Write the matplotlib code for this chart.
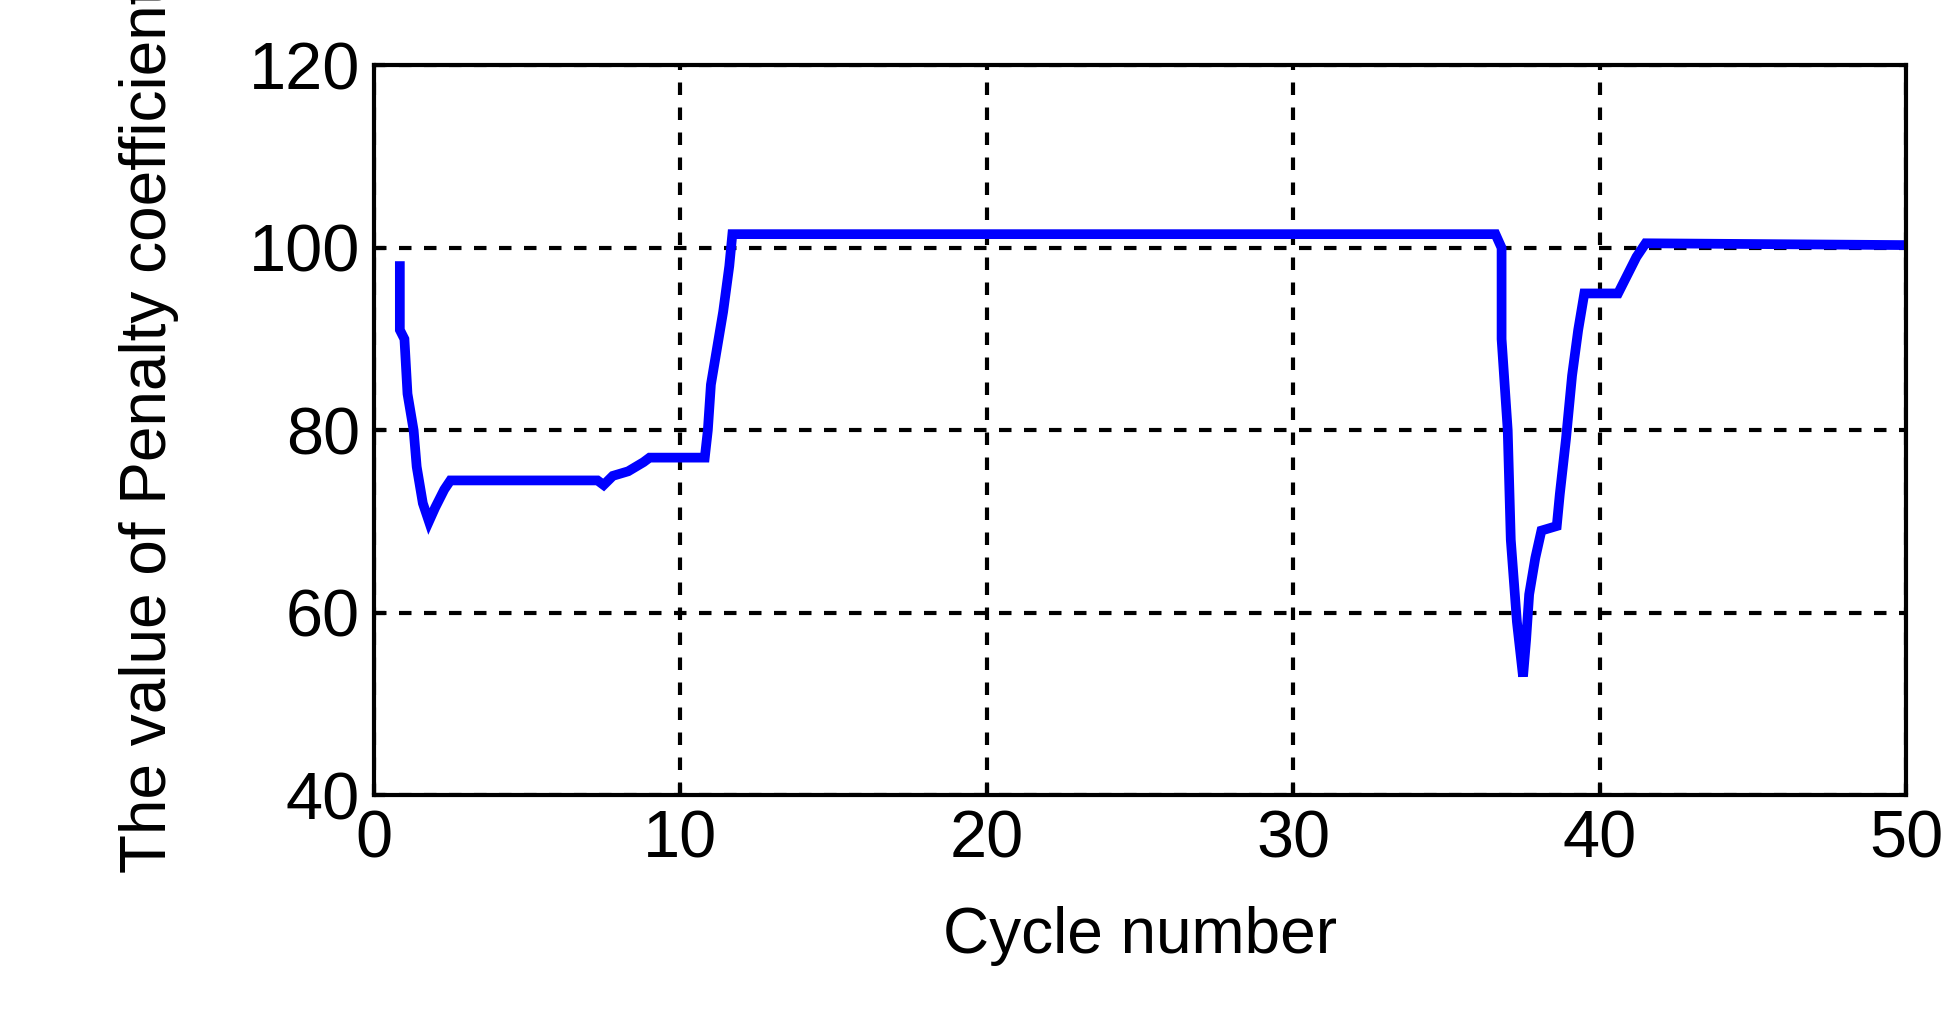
import matplotlib
matplotlib.use("Agg")
import matplotlib.pyplot as plt

cycle = [0.85, 0.85, 1.0, 1.1, 1.3, 1.4, 1.6, 1.8, 2.0, 2.3, 2.5, 7.3, 7.5, 7.8, 8.3, 8.8, 9.0,
         10.8, 10.9, 11.0, 11.2, 11.4, 11.6, 11.7, 36.6, 36.8, 36.8, 37.0, 37.1, 37.3, 37.5,
         37.6, 37.7, 37.9, 38.1, 38.6, 38.7, 38.9, 39.1, 39.3, 39.5, 40.6, 40.9, 41.2, 41.5, 50.0]
penalty = [98, 91, 90, 84, 80, 76, 72, 70, 71.5, 73.5, 74.5, 74.5, 74, 75, 75.5, 76.5, 77,
           77, 80, 85, 89, 93, 98, 101.5, 101.5, 100, 90, 80, 68, 59, 53,
           57, 62, 66, 69, 69.5, 73, 79, 86, 91, 95, 95, 97, 99, 100.5, 100.3]
xticks = [0, 10, 20, 30, 40, 50]
yticks = [40, 60, 80, 100, 120]

plt.rcParams['font.family'] = ['Liberation Sans', 'DejaVu Sans']
fig = plt.figure(figsize=(19.57, 10.22), dpi=100)
ax = fig.add_axes([0.191, 0.222, 0.783, 0.714])
ax.plot(cycle, penalty, color='#0000ff', lw=7, solid_joinstyle='miter')
ax.set_xlim(0, 50)
ax.set_ylim(40, 120)
ax.set_xticks(xticks)
ax.set_yticks(yticks)
ax.grid(True, color='black', linestyle=(0, (3, 3)), lw=3)
for s in ax.spines.values():
    s.set_linewidth(3)
ax.tick_params(labelsize=48, width=3, length=8, direction='in', pad=10)
ax.set_xlabel('Cycle number', fontsize=46, labelpad=25)
ax.set_ylabel('The value of Penalty coefficient', fontsize=46, labelpad=50)
fig.savefig('out.png', dpi=100)
